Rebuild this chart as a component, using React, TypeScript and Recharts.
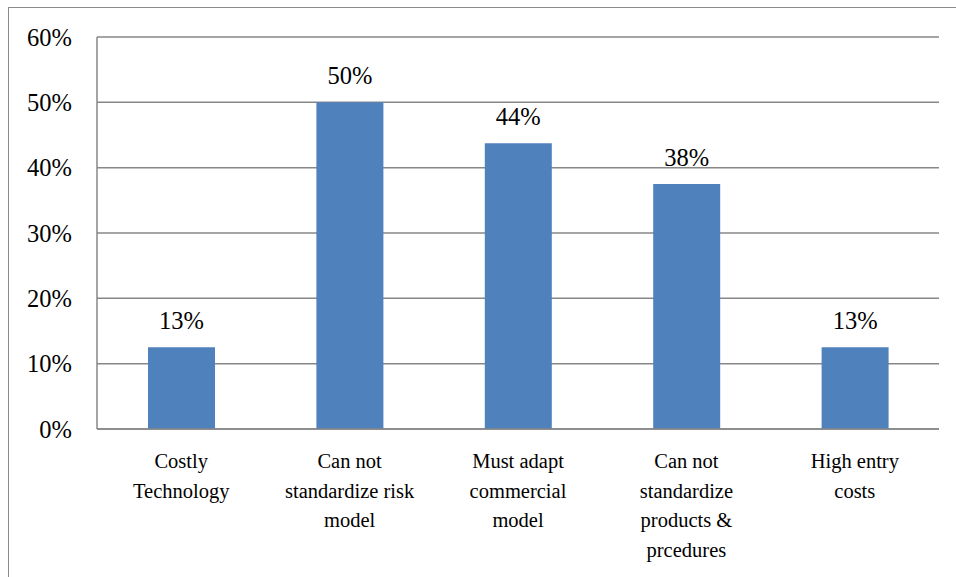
import { BarChart, Bar, XAxis, YAxis, CartesianGrid, LabelList } from "recharts";

const categories = [
  "Costly\nTechnology",
  "Can not\nstandardize risk\nmodel",
  "Must adapt\ncommercial\nmodel",
  "Can not\nstandardize\nproducts &\nprcedures",
  "High entry\ncosts",
];
const shares = [12.5, 50, 43.75, 37.5, 12.5];
const yTicks = [0, 10, 20, 30, 40, 50, 60];

const data = categories.map((name, i) => ({ name, value: shares[i] }));

const FONT = "Liberation Serif";

function CategoryTick({ x, y, payload }: any) {
  const lines = String(payload.value).split("\n");
  return (
    <text x={x} y={y} textAnchor="middle" fontFamily={FONT} fontSize={20.5} fill="#000">
      {lines.map((l, i) => (
        <tspan key={i} x={x} y={y + 32 + i * 29.6} dy="0.35em">
          {l}
        </tspan>
      ))}
    </text>
  );
}

function ValueTick({ x, y, payload }: any) {
  return (
    <text x={x} y={y} dy="0.35em" textAnchor="end" fontFamily={FONT} fontSize={24.5} fill="#000">
      {`${payload.value}%`}
    </text>
  );
}

function BarValue({ x, y, width, value }: any) {
  return (
    <text x={x + width / 2} y={y - 18} textAnchor="middle" fontFamily={FONT} fontSize={24.5} fill="#000">
      {`${Math.round(Number(value))}%`}
    </text>
  );
}

export default function App() {
  return (
    <div style={{ position: "absolute", left: 0, top: 0, width: 956, height: 577, overflow: "hidden", background: "#fff" }}>
      <div
        style={{
          position: "absolute",
          left: 8,
          top: 7,
          width: 1000,
          height: 700,
          border: "1.5px solid #8a8a8a",
          boxSizing: "border-box",
        }}
      />
      <div style={{ position: "absolute", left: 0, top: 0 }}>
        <BarChart width={956} height={577} data={data} margin={{ top: 37, right: 17, bottom: 118, left: 0 }}>
          <CartesianGrid vertical={false} stroke="#878787" strokeWidth={1.5} />
          <XAxis
            dataKey="name"
            height={30}
            interval={0}
            axisLine={{ stroke: "#878787", strokeWidth: 1.5 }}
            tickLine={false}
            tickSize={0}
            tickMargin={0}
            tick={<CategoryTick />}
          />
          <YAxis
            domain={[0, 60]}
            ticks={yTicks}
            interval={0}
            width={97}
            axisLine={{ stroke: "#878787", strokeWidth: 1.5 }}
            tickLine={false}
            tickSize={0}
            tickMargin={25}
            tick={<ValueTick />}
          />
          <Bar dataKey="value" fill="#4F81BD" barSize={67} isAnimationActive={false}>
            <LabelList dataKey="value" content={<BarValue />} />
          </Bar>
        </BarChart>
      </div>
    </div>
  );
}
